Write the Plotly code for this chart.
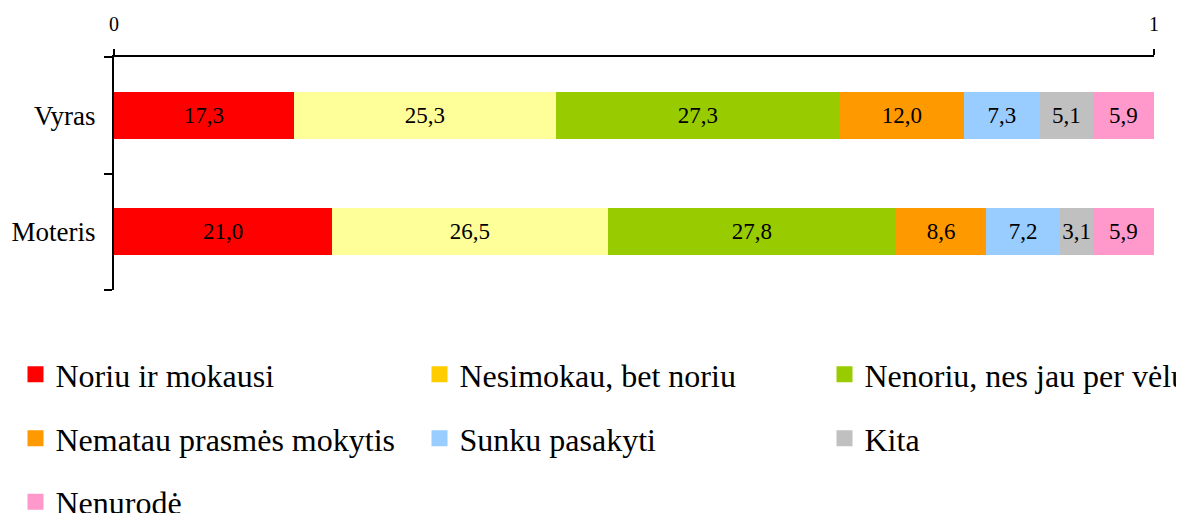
import plotly.graph_objects as go

categories = ["Vyras", "Moteris"]
series_names = [
    "Noriu ir mokausi",
    "Nesimokau, bet noriu",
    "Nenoriu, nes jau per vėlu",
    "Nematau prasmės mokytis",
    "Sunku pasakyti",
    "Kita",
    "Nenurodė",
]
vyras_values = [17.3, 25.3, 27.3, 12.0, 7.3, 5.1, 5.9]
moteris_values = [21.0, 26.5, 27.8, 8.6, 7.2, 3.1, 5.9]
bar_colors = ["#FF0000", "#FFFF99", "#99CC00", "#FF9900", "#99CCFF", "#C0C0C0", "#FF99CC"]
legend_colors = ["#FF0000", "#FFCC00", "#99CC00", "#FF9900", "#99CCFF", "#C0C0C0", "#FF99CC"]
x_tick_vals = [0, 1]
x_tick_text = ["0", "1"]

FONT = "Liberation Serif"
PAGE_PAD = 8  # default body margin of the html page
W, H = 1184 - PAGE_PAD, 513 - PAGE_PAD

fig = go.Figure()
for i, name in enumerate(series_names):
    vals = [vyras_values[i], moteris_values[i]]
    fig.add_trace(go.Bar(
        y=categories, x=vals, orientation="h", name=name,
        marker=dict(color=bar_colors[i], line=dict(width=0)),
        text=[f"{v:.1f}".replace(".", ",") for v in vals],
        textposition="inside", insidetextanchor="middle", textangle=0,
        constraintext="none",
        textfont=dict(family=FONT, size=23, color="black"),
        showlegend=False, width=0.4,
    ))

# legend-only entries (marker colours in the legend differ for one series)
col_x = [35.5, 439.5, 844.5]
row_y = [374.5, 438.5, 502]
legends = {}
for i, name in enumerate(series_names):
    key = "legend" if i == 0 else f"legend{i+1}"
    r, c = divmod(i, 3)
    fig.add_trace(go.Scatter(
        x=[None], y=[None], mode="markers", name=name,
        marker=dict(symbol="square", size=18, color=legend_colors[i]),
        legend=key, showlegend=True,
    ))
    legends[key] = dict(
        x=(col_x[c] - PAGE_PAD - 20) / W, xref="container", xanchor="left",
        y=1 - (row_y[r] - PAGE_PAD) / H, yref="container", yanchor="middle",
        orientation="h", bgcolor="rgba(0,0,0,0)", borderwidth=0,
        font=dict(family=FONT, size=32, color="black"),
    )

fig.update_layout(
    width=W, height=H,
    barmode="stack", barnorm="fraction",
    plot_bgcolor="white", paper_bgcolor="white",
    margin=dict(l=114 - PAGE_PAD, r=30, t=57 - PAGE_PAD, b=223),
    font=dict(family=FONT, color="black"),
    xaxis=dict(
        side="top", range=[0, 1], tickvals=x_tick_vals, ticktext=x_tick_text,
        automargin=False,
        showgrid=False, zeroline=False, showline=True, linecolor="black", linewidth=2,
        ticks="outside", ticklen=6, tickwidth=2, tickcolor="black",
        tickfont=dict(family=FONT, size=20, color="black"), ticklabelstandoff=10,
    ),
    yaxis=dict(
        categoryorder="array", categoryarray=categories[::-1],
        range=[-0.5005, 1.5005], automargin=False, showgrid=False, zeroline=False,
        showline=True, linecolor="black", linewidth=2,
        ticks="outside", tickson="boundaries", ticklen=8, tickwidth=2, tickcolor="black",
        tickfont=dict(family=FONT, size=27, color="black"), ticklabelstandoff=11,
    ),
    **legends,
)

fig.write_html("out.html")
